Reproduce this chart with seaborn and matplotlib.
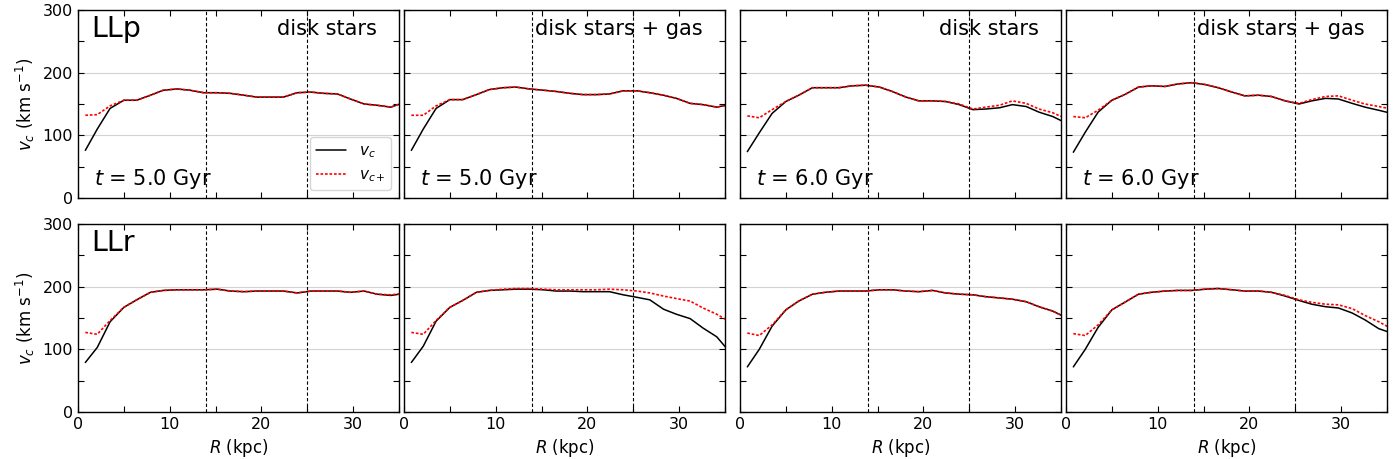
import numpy as np
import pandas as pd
import matplotlib
matplotlib.use("Agg")
import matplotlib.pyplot as plt
from matplotlib.ticker import MultipleLocator
import seaborn as sns

#radial bins (kpc)
R_kpc = [0.8, 2.1, 3.5, 5.0, 6.4, 7.9, 9.3, 10.8, 12.2, 13.7, 15.2, 16.6, 18.1,
         19.5, 21.0, 22.4, 23.9, 25.4, 26.8, 28.3, 29.7, 31.2, 32.6, 34.1, 35.5]

#LLp, t = 5 Gyr, disk stars
llp_t5_stars_vc = [76, 110, 143, 156, 156, 164, 172, 174, 172, 168, 168, 167, 164,
                   161, 161, 161, 168, 169, 167, 166, 158, 150, 148, 145, 152]
llp_t5_stars_vcp = [132, 133, 147, 156, 156, 164, 172, 174, 172, 168, 168, 167, 164,
                    161, 161, 161, 168, 169, 167, 166, 158, 150, 148, 145, 152]
#LLp, t = 5 Gyr, disk stars + gas
llp_t5_gas_vc = [76, 110, 143, 157, 157, 165, 173, 176, 177, 174, 172, 170, 167,
                 165, 165, 166, 171, 171, 168, 164, 159, 151, 149, 145, 149]
llp_t5_gas_vcp = [132, 132, 147, 157, 157, 165, 173, 176, 177, 174, 172, 170, 167,
                  165, 165, 166, 171, 171, 168, 164, 159, 151, 149, 145, 149]
#LLp, t = 6 Gyr, disk stars
llp_t6_stars_vc = [74, 104, 135, 154, 164, 176, 176, 176, 179, 180, 177, 170, 161,
                   155, 155, 154, 149, 141, 142, 144, 149, 146, 137, 130, 120]
llp_t6_stars_vcp = [131, 128, 141, 154, 164, 176, 176, 176, 179, 180, 177, 170, 161,
                    155, 155, 154, 150, 142, 145, 148, 155, 151, 142, 136, 127]
#LLp, t = 6 Gyr, disk stars + gas
llp_t6_gas_vc = [73, 105, 137, 156, 165, 177, 179, 178, 182, 184, 181, 176, 169,
                 163, 164, 162, 155, 150, 155, 159, 158, 151, 145, 140, 135]
llp_t6_gas_vcp = [130, 128, 140, 156, 165, 177, 179, 178, 182, 184, 181, 176, 169,
                  163, 164, 162, 155, 151, 157, 162, 163, 156, 150, 146, 142]
#LLr, t = 5 Gyr, disk stars
llr_t5_stars_vc = [79, 103, 144, 167, 179, 191, 194, 195, 195, 195, 196, 193, 192,
                   193, 193, 193, 190, 193, 193, 193, 191, 193, 188, 186, 189]
llr_t5_stars_vcp = [127, 124, 146, 167, 179, 191, 194, 195, 195, 195, 196, 193, 192,
                    193, 193, 193, 190, 193, 193, 193, 191, 193, 188, 187, 189]
#LLr, t = 5 Gyr, disk stars + gas
llr_t5_gas_vc = [79, 105, 145, 167, 178, 191, 194, 195, 196, 196, 195, 193, 193,
                 192, 192, 192, 187, 183, 179, 164, 156, 149, 134, 120, 96]
llr_t5_gas_vcp = [127, 124, 146, 167, 178, 191, 194, 196, 197, 197, 196, 195, 195,
                  195, 195, 196, 195, 193, 190, 185, 181, 177, 166, 156, 144]
#LLr, t = 6 Gyr, disk stars
llr_t6_stars_vc = [72, 100, 137, 163, 177, 188, 191, 193, 193, 193, 195, 195, 193,
                   192, 194, 190, 188, 187, 184, 182, 180, 176, 168, 161, 151]
llr_t6_stars_vcp = [126, 122, 139, 163, 177, 188, 191, 193, 193, 193, 195, 195, 193,
                    192, 194, 190, 188, 187, 184, 182, 180, 176, 168, 161, 151]
#LLr, t = 6 Gyr, disk stars + gas
llr_t6_gas_vc = [72, 100, 135, 163, 175, 188, 191, 193, 194, 194, 196, 197, 195,
                 193, 193, 191, 185, 178, 172, 168, 166, 158, 147, 133, 126]
llr_t6_gas_vcp = [125, 122, 139, 163, 175, 188, 191, 193, 194, 194, 196, 197, 195,
                  193, 193, 191, 186, 179, 175, 172, 171, 165, 154, 144, 133]

panels = [
    # row, col, vc, vc+, model label, component, time
    (0, 0, llp_t5_stars_vc, llp_t5_stars_vcp, "LLp", "disk stars", "5.0"),
    (0, 1, llp_t5_gas_vc, llp_t5_gas_vcp, None, "disk stars + gas", "5.0"),
    (0, 2, llp_t6_stars_vc, llp_t6_stars_vcp, None, "disk stars", "6.0"),
    (0, 3, llp_t6_gas_vc, llp_t6_gas_vcp, None, "disk stars + gas", "6.0"),
    (1, 0, llr_t5_stars_vc, llr_t5_stars_vcp, "LLr", None, None),
    (1, 1, llr_t5_gas_vc, llr_t5_gas_vcp, None, None, None),
    (1, 2, llr_t6_stars_vc, llr_t6_stars_vcp, None, None, None),
    (1, 3, llr_t6_gas_vc, llr_t6_gas_vcp, None, None, None),
]

sns.set_style("ticks")
plt.rcParams['font.family'] = ['DejaVu Sans']
plt.rcParams['mathtext.fontset'] = 'dejavusans'
plt.rcParams['text.color'] = 'black'
plt.rcParams['axes.labelcolor'] = 'black'
plt.rcParams['xtick.color'] = 'black'
plt.rcParams['ytick.color'] = 'black'

fig = plt.figure(figsize=(14, 4.59), dpi=100)

#axes positions in figure fraction (px / 1400)
lefts = [78, 404, 740, 1066]
width = 321
bottoms = [1 - 198/459, 1 - 412/459]
height = 188/459

for row, col, vc, vcp, model, comp, tt in panels:
    ax = fig.add_axes([lefts[col]/1400, bottoms[row], width/1400, height])
    df = pd.DataFrame({'R': R_kpc, 'vc': vc, 'vcp': vcp})
    ax.yaxis.grid(True, which='major', color='#d3d3d3', linewidth=0.8)
    ax.set_axisbelow(True)
    for x0 in [14, 25]:
        ax.axvline(x0, color='black', linestyle=(0, (3, 2)), linewidth=0.8)
    sns.lineplot(data=df, x='R', y='vc', color='black', linewidth=1.1,
                 label=r'$v_c$', ax=ax)
    sns.lineplot(data=df, x='R', y='vcp', color='red', linewidth=1.2,
                 linestyle=(0, (1.6, 1.1)), label=r'$v_{c+}$', ax=ax)
    ax.set_xlim(0, 35)
    ax.set_ylim(0, 300)
    ax.xaxis.set_major_locator(MultipleLocator(10))
    ax.xaxis.set_minor_locator(MultipleLocator(5))
    ax.yaxis.set_major_locator(MultipleLocator(100))
    ax.yaxis.set_minor_locator(MultipleLocator(50))
    ax.tick_params(which='both', direction='in', top=True, right=True,
                   length=4, width=0.8, labelsize=11.5)
    for s in ax.spines.values():
        s.set_linewidth(1.0)
        s.set_color('black')

    if col == 0:
        ax.set_ylabel(r'$v_c$ (km s$^{-1}$)', fontsize=12)
    else:
        ax.set_ylabel('')
        ax.set_yticklabels([])
    if row == 1:
        ax.set_xlabel(r'$R$ (kpc)', fontsize=12)
    else:
        ax.set_xlabel('')
        ax.set_xticklabels([])

    if row == 0 and col == 0:
        ax.legend(loc='lower right', fontsize=11, frameon=True,
                  handlelength=2.0, borderaxespad=0.5)
    else:
        ax.get_legend().remove()

    if model:
        ax.text(0.04, 0.9, model, transform=ax.transAxes, fontsize=20.5,
                ha='left', va='center')
    if comp:
        ax.text(0.93, 0.9, comp, transform=ax.transAxes, fontsize=15,
                ha='right', va='center')
    if tt:
        ax.text(0.05, 0.1, r'$t$ = ' + tt + ' Gyr', transform=ax.transAxes,
                fontsize=15, ha='left', va='center')

fig.savefig('out.png', dpi=100)
